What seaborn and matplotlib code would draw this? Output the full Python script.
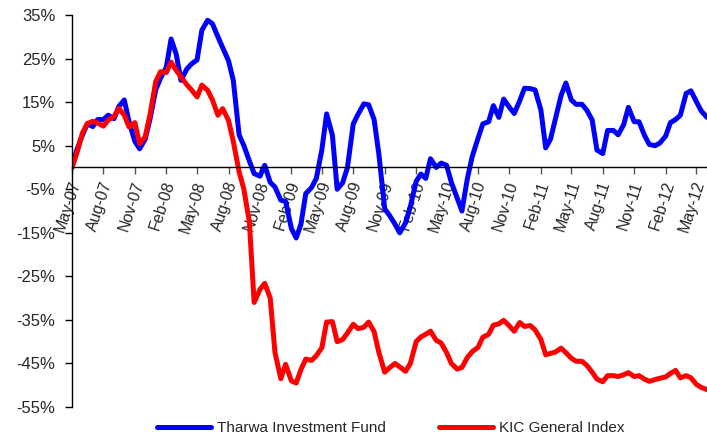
import numpy as np
import pandas as pd
import seaborn as sns
import matplotlib
matplotlib.use("Agg")
from matplotlib import pyplot as plt
import matplotlib.dates as mdates
import matplotlib.transforms as mtransforms
from matplotlib.ticker import FuncFormatter

sns.set_theme(style="white")
plt.rcParams["font.family"] = ["Liberation Sans", "DejaVu Sans"]

# semi-monthly observations, May-07 .. Jun-12
dates = pd.date_range("2007-05-01", "2012-06-01", freq="SMS")

fund_label = "Tharwa Investment Fund"
index_label = "KIC General Index"

fund = [
    0, 4, 7.5, 10, 9.4, 11, 11, 12, 11.2, 14,
    15.5, 10.5, 6, 4.3, 6.5, 11, 17.8, 20.5, 23, 29.5,
    26, 20, 22.6, 23.8, 24.7, 31.5, 33.8, 33, 30, 27.5,
    24.5, 20, 7.5, 5, 1.5, -1.4, -2, 0.5, -3.4, -4.5,
    -7.5, -7.8, -14, -16.2, -13, -6, -4.6, -2.5, 4, 12.3,
    7.4, -5, -3.5, 0, 10, 12.2, 14.6, 14.4, 11, 3,
    -9.5, -11, -13, -15, -12.7, -9, -3.2, -1.5, -2.5, 2,
    0, 1, 0.5, -3.4, -7, -10, -2.5, 2.5, 6.7, 10,
    10.5, 14.2, 11.5, 15.7, 13.8, 12.4, 15.3, 18.2, 18.1, 17.8,
    13.2, 4.5, 6.5, 11, 16.5, 19.4, 15.5, 14.5, 14.5, 13.2,
    10.9, 4, 3.2, 8.5, 8.5, 7.5, 9.8, 13.8, 10.5, 10.5,
    7.4, 5.3, 5, 5.6, 7.2, 10.3, 11, 12, 17, 17.6,
    15.1, 13, 11.5,
]

kic = [
    0, 3.2, 8, 10.1, 10.6, 10.2, 9.5, 10.9, 11.7, 13.6,
    12, 9.3, 10.3, 5.5, 7, 12, 19.7, 22, 21.8, 24.2,
    22.3, 20.8, 19, 17.8, 16.2, 18.9, 17.7, 15.5, 12, 13.5,
    10.8, 6, -1, -5, -12.5, -31, -28, -26.6, -30, -42.5,
    -48.5, -45.2, -49, -49.5, -46.4, -44, -44.3, -43.2, -41.4, -35.5,
    -35.4, -40, -39.5, -38, -36, -37, -36.7, -35.5, -37.7, -42.5,
    -47, -46, -45, -45.8, -46.8, -45, -40, -38.9, -38.3, -37.6,
    -39.7, -40.3, -42.5, -45, -46.3, -45.9, -43.6, -42.3, -41.3, -39,
    -38.3, -36.2, -35.9, -35.1, -36.4, -37.6, -35.6, -36.5, -36.3, -37.3,
    -39.5, -43, -42.7, -42.4, -41.5, -42.5, -43.8, -44.5, -44.5, -45.4,
    -47, -48.6, -49.2, -47.8, -47.8, -48, -47.6, -47.1, -48, -47.8,
    -48.6, -49.1, -48.7, -48.4, -48.1, -47.3, -46.6, -48.3, -47.8, -48.3,
    -49.8, -50.5, -51,
]

y_ticks = [-55, -45, -35, -25, -15, -5, 5, 15, 25, 35]

df = pd.concat([
    pd.DataFrame({"date": dates, "value": fund, "series": fund_label}),
    pd.DataFrame({"date": dates, "value": kic, "series": index_label}),
])

fig = plt.figure(figsize=(7.07, 4.36), dpi=100)
ax = fig.add_axes([0.1018, 0.0665, 0.8982, 0.899])

sns.lineplot(
    data=df, x="date", y="value", hue="series",
    hue_order=[fund_label, index_label],
    palette={fund_label: "#0000ff", index_label: "#ff0000"},
    linewidth=3.6, ax=ax, legend=False,
)

ax.set_xlim(dates[0], dates[-1])
ax.set_ylim(-55, 35)
ax.set_yticks(y_ticks)
ax.yaxis.set_major_formatter(FuncFormatter(lambda v, _: f"{v:.0f}%"))
ax.xaxis.set_major_locator(mdates.MonthLocator(bymonth=(2, 5, 8, 11)))
ax.xaxis.set_major_formatter(mdates.DateFormatter("%b-%y"))

ax.set_xlabel("")
ax.set_ylabel("")
ax.spines["top"].set_visible(False)
ax.spines["right"].set_visible(False)
ax.spines["bottom"].set_position(("data", 0))
for side in ["left", "bottom"]:
    ax.spines[side].set_color("black")
    ax.spines[side].set_linewidth(1)

ax.tick_params(axis="y", left=True, direction="out", length=5, width=1,
               color="black", labelsize=12, pad=7)
ax.tick_params(axis="x", bottom=True, direction="out", length=5, width=1,
               color="#555555", labelsize=11.5, pad=5)
shift = mtransforms.ScaledTranslation(4 / 100, 0, fig.dpi_scale_trans)
for lbl in ax.get_xticklabels():
    lbl.set_rotation(72)
    lbl.set_rotation_mode("anchor")
    lbl.set_ha("right")
    lbl.set_va("center")
    lbl.set_transform(lbl.get_transform() + shift)

lines = ax.get_lines()[:2]
fig.legend(
    lines, [fund_label, index_label],
    loc="center", bbox_to_anchor=(391 / 707, 1 - 428 / 436),
    ncol=2, frameon=False, fontsize=11,
    handlelength=3.5, handletextpad=0.4, columnspacing=3.5,
)

fig.savefig("out.png", dpi=100)
